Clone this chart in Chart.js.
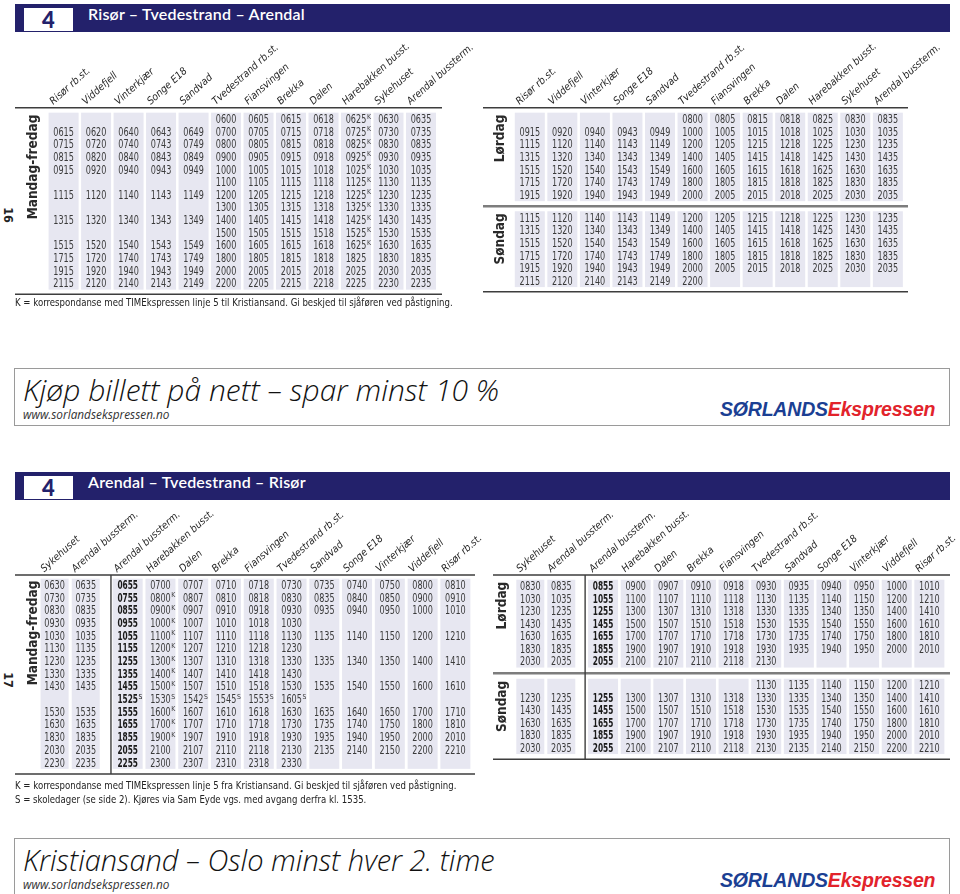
<!DOCTYPE html>
<html>
<head>
<meta charset="utf-8">
<script src="https://cdn.jsdelivr.net/npm/chart.js@4.4.1/dist/chart.umd.min.js"></script>
<style>
body { margin: 0; width: 960px; height: 894px; position: relative; overflow: hidden; background: #fff;
       font-family: "Liberation Sans Narrow", "DejaVu Sans Condensed", "Liberation Sans", sans-serif; color: #222; }
.bar { position: absolute; left: 15px; width: 935px; height: 28px; background: #23216b; }
.bar .num { position: absolute; left: 9px; top: 4px; width: 49px; height: 23px; background: #fff; color: #23216b;
            font: 900 22px Lato, sans-serif; text-align: center; line-height: 24px; }
.bar .title { position: absolute; left: 73px; top: 0; line-height: 30px; color: #fff; font: 600 16px Lato, sans-serif; letter-spacing: 0.2px; }
.page { position: absolute; width: 20px; height: 14px; text-align: center; font-weight: bold; font-size: 12.5px; line-height: 14px; transform: rotate(90deg); }
.note { position: absolute; left: 15px; font-size: 10.6px; line-height: 14px; color: #222; white-space: nowrap;
        transform: scaleX(0.9); transform-origin: 0 0; }
.promo { position: absolute; left: 14px; width: 934px; border: 1px solid #9a9a9a; background: #fff; }
.promo .big { position: absolute; left: 8px; font: italic 300 30px "Open Sans", sans-serif; color: #111; white-space: nowrap; }
.promo .url { position: absolute; left: 8px; font: italic 11.8px "Open Sans", sans-serif; color: #333; }
.promo .logo { position: absolute; left: 705px; font: italic bold 19.5px "Liberation Sans", Arial, sans-serif; letter-spacing: -0.2px; }
.logo .a { color: #1b3f93; } .logo .b { color: #e2232b; }
canvas { position: absolute; }
</style>
</head>
<body>
<div class="bar" style="top:4px"><div class="num">4</div><div class="title">Risør – Tvedestrand – Arendal</div></div>
<div class="bar" style="top:472px"><div class="num">4</div><div class="title">Arendal – Tvedestrand – Risør</div></div>

<div class="page" style="left:-2px;top:208px">16</div>
<div class="page" style="left:-2px;top:673px">17</div>

<canvas id="tl" width="480" height="265" style="left:0;top:33px"></canvas>
<canvas id="tr" width="480" height="265" style="left:480px;top:33px"></canvas>
<canvas id="bl" width="490" height="280" style="left:0;top:500px"></canvas>
<canvas id="br" width="470" height="265" style="left:490px;top:500px"></canvas>

<div class="note" style="top:295px">K = korrespondanse med TIMEkspressen linje 5 til Kristiansand. Gi beskjed til sjåføren ved påstigning.</div>
<div class="note" style="top:778px">K = korrespondanse med TIMEkspressen linje 5 fra Kristiansand. Gi beskjed til sjåføren ved påstigning.<br>S = skoledager (se side 2). Kjøres via Sam Eyde vgs. med avgang derfra kl. 1535.</div>

<div class="promo" style="top:368px;height:56px">
  <div class="big" style="top:0px">Kjøp billett på nett – spar minst 10 %</div>
  <div class="url" style="top:37px">www.sorlandsekspressen.no</div>
  <div class="logo" style="top:29px"><span class="a">SØRLANDS</span><span class="b">Ekspressen</span></div>
</div>
<div class="promo" style="top:838px;height:70px">
  <div class="big" style="top:1px;font-size:29px">Kristiansand – Oslo minst hver 2. time</div>
  <div class="url" style="top:37px">www.sorlandsekspressen.no</div>
  <div class="logo" style="top:30px"><span class="a">SØRLANDS</span><span class="b">Ekspressen</span></div>
</div>

<script>
// stops
const stopsRA = ['Risør rb.st.', 'Viddefjell', 'Vinterkjær', 'Songe E18', 'Sandvad', 'Tvedestrand rb.st.',
                 'Fiansvingen', 'Brekka', 'Dalen', 'Harebakken busst.', 'Sykehuset', 'Arendal bussterm.'];
const stopsAR = ['Sykehuset', 'Arendal bussterm.', 'Arendal bussterm.', 'Harebakken busst.', 'Dalen', 'Brekka',
                 'Fiansvingen', 'Tvedestrand rb.st.', 'Sandvad', 'Songe E18', 'Vinterkjær', 'Viddefjell', 'Risør rb.st.'];

// Risør - Tvedestrand - Arendal  ( - = no stop, K/S suffix = footnote)
const raWeekday = [
  '- - - - - 0600 0605 0615 0618 0625K 0630 0635',
  '0615 0620 0640 0643 0649 0700 0705 0715 0718 0725K 0730 0735',
  '0715 0720 0740 0743 0749 0800 0805 0815 0818 0825K 0830 0835',
  '0815 0820 0840 0843 0849 0900 0905 0915 0918 0925K 0930 0935',
  '0915 0920 0940 0943 0949 1000 1005 1015 1018 1025K 1030 1035',
  '- - - - - 1100 1105 1115 1118 1125K 1130 1135',
  '1115 1120 1140 1143 1149 1200 1205 1215 1218 1225K 1230 1235',
  '- - - - - 1300 1305 1315 1318 1325K 1330 1335',
  '1315 1320 1340 1343 1349 1400 1405 1415 1418 1425K 1430 1435',
  '- - - - - 1500 1505 1515 1518 1525K 1530 1535',
  '1515 1520 1540 1543 1549 1600 1605 1615 1618 1625K 1630 1635',
  '1715 1720 1740 1743 1749 1800 1805 1815 1818 1825 1830 1835',
  '1915 1920 1940 1943 1949 2000 2005 2015 2018 2025 2030 2035',
  '2115 2120 2140 2143 2149 2200 2205 2215 2218 2225 2230 2235'
];
const raSaturday = [
  '- - - - - 0800 0805 0815 0818 0825 0830 0835',
  '0915 0920 0940 0943 0949 1000 1005 1015 1018 1025 1030 1035',
  '1115 1120 1140 1143 1149 1200 1205 1215 1218 1225 1230 1235',
  '1315 1320 1340 1343 1349 1400 1405 1415 1418 1425 1430 1435',
  '1515 1520 1540 1543 1549 1600 1605 1615 1618 1625 1630 1635',
  '1715 1720 1740 1743 1749 1800 1805 1815 1818 1825 1830 1835',
  '1915 1920 1940 1943 1949 2000 2005 2015 2018 2025 2030 2035'
];
const raSunday = [
  '1115 1120 1140 1143 1149 1200 1205 1215 1218 1225 1230 1235',
  '1315 1320 1340 1343 1349 1400 1405 1415 1418 1425 1430 1435',
  '1515 1520 1540 1543 1549 1600 1605 1615 1618 1625 1630 1635',
  '1715 1720 1740 1743 1749 1800 1805 1815 1818 1825 1830 1835',
  '1915 1920 1940 1943 1949 2000 2005 2015 2018 2025 2030 2035',
  '2115 2120 2140 2143 2149 2200 - - - - - -'
];

// Arendal - Tvedestrand - Risør
const arWeekday = [
  '0630 0635 0655 0700 0707 0710 0718 0730 0735 0740 0750 0800 0810',
  '0730 0735 0755 0800K 0807 0810 0818 0830 0835 0840 0850 0900 0910',
  '0830 0835 0855 0900K 0907 0910 0918 0930 0935 0940 0950 1000 1010',
  '0930 0935 0955 1000K 1007 1010 1018 1030 - - - - -',
  '1030 1035 1055 1100K 1107 1110 1118 1130 1135 1140 1150 1200 1210',
  '1130 1135 1155 1200K 1207 1210 1218 1230 - - - - -',
  '1230 1235 1255 1300K 1307 1310 1318 1330 1335 1340 1350 1400 1410',
  '1330 1335 1355 1400K 1407 1410 1418 1430 - - - - -',
  '1430 1435 1455 1500K 1507 1510 1518 1530 1535 1540 1550 1600 1610',
  '- - 1525S 1530S 1542S 1545S 1553S 1605S - - - - -',
  '1530 1535 1555 1600K 1607 1610 1618 1630 1635 1640 1650 1700 1710',
  '1630 1635 1655 1700K 1707 1710 1718 1730 1735 1740 1750 1800 1810',
  '1830 1835 1855 1900K 1907 1910 1918 1930 1935 1940 1950 2000 2010',
  '2030 2035 2055 2100 2107 2110 2118 2130 2135 2140 2150 2200 2210',
  '2230 2235 2255 2300 2307 2310 2318 2330 - - - - -'
];
const arSaturday = [
  '0830 0835 0855 0900 0907 0910 0918 0930 0935 0940 0950 1000 1010',
  '1030 1035 1055 1100 1107 1110 1118 1130 1135 1140 1150 1200 1210',
  '1230 1235 1255 1300 1307 1310 1318 1330 1335 1340 1350 1400 1410',
  '1430 1435 1455 1500 1507 1510 1518 1530 1535 1540 1550 1600 1610',
  '1630 1635 1655 1700 1707 1710 1718 1730 1735 1740 1750 1800 1810',
  '1830 1835 1855 1900 1907 1910 1918 1930 1935 1940 1950 2000 2010',
  '2030 2035 2055 2100 2107 2110 2118 2130 - - - - -'
];
const arSunday = [
  '- - - - - - - 1130 1135 1140 1150 1200 1210',
  '1230 1235 1255 1300 1307 1310 1318 1330 1335 1340 1350 1400 1410',
  '1430 1435 1455 1500 1507 1510 1518 1530 1535 1540 1550 1600 1610',
  '1630 1635 1655 1700 1707 1710 1718 1730 1735 1740 1750 1800 1810',
  '1830 1835 1855 1900 1907 1910 1918 1930 1935 1940 1950 2000 2010',
  '2030 2035 2055 2100 2107 2110 2118 2130 2135 2140 2150 2200 2210'
];

const NARROW = '"Liberation Sans Narrow", "DejaVu Sans Condensed", "Liberation Sans", sans-serif';
const SHADE = '#e7e7f1';
const INK = '#3a3a3a';
const DIGITS_W = 20.6;   // printed width of a 4-digit time

function makePlugin(cfg) {
  return {
    id: 'timetable',
    beforeDatasetsDraw(chart) {
      const { ctx, chartArea: a, scales: { x, y } } = chart;
      ctx.save();
      // column shading
      ctx.fillStyle = SHADE;
      cfg.groups.forEach(gr => {
        const y0 = y.getPixelForValue(gr.start - 0.5);
        const y1 = y.getPixelForValue(gr.start + gr.rows.length - 0.5);
        for (let c = 0; c < cfg.ncol; c++) {
          const cx = x.getPixelForValue(cfg.xVal(c));
          const w = cfg.narrowFirst && c < 2 ? 28 : 30;
          ctx.fillRect(cx - w / 2, y0, w, y1 - y0);
        }
      });
      // rules
      ctx.strokeStyle = '#3d3d3d';
      ctx.lineWidth = 1.6;
      [a.top, a.bottom].forEach(py => {
        ctx.beginPath(); ctx.moveTo(a.left, py); ctx.lineTo(a.right, py); ctx.stroke();
      });
      ctx.strokeStyle = '#7d7d7d';
      ctx.lineWidth = 2.5;
      cfg.groups.slice(1).forEach(gr => {
        const py = y.getPixelForValue(gr.start - (cfg.gap + 1) / 2);
        ctx.beginPath(); ctx.moveTo(a.left, py); ctx.lineTo(a.right, py); ctx.stroke();
      });
      if (cfg.divider != null) {
        const px = x.getPixelForValue(cfg.divider);
        ctx.strokeStyle = '#3d3d3d';
        ctx.lineWidth = 1.4;
        ctx.beginPath(); ctx.moveTo(px, a.top); ctx.lineTo(px, a.bottom); ctx.stroke();
      }
      // day labels
      ctx.fillStyle = '#2a2a2a';
      ctx.font = 'bold 13.5px ' + NARROW;
      ctx.textAlign = 'right';
      ctx.textBaseline = 'middle';
      cfg.groups.forEach(gr => {
        ctx.save();
        ctx.translate(cfg.labelX, y.getPixelForValue(gr.start - 0.5) + 2);
        ctx.rotate(-Math.PI / 2);
        ctx.fillText(gr.label, 0, 0);
        ctx.restore();
      });
      ctx.restore();
    },
    afterDatasetsDraw(chart) {
      const ctx = chart.ctx;
      const meta = chart.getDatasetMeta(0);
      const pts = chart.data.datasets[0].data;
      ctx.save();
      ctx.textBaseline = 'alphabetic';
      ctx.textAlign = 'left';
      meta.data.forEach((el, i) => {
        const p = pts[i];
        ctx.font = (p.bold ? 'bold ' : '') + '11.4px ' + NARROW;
        ctx.fillStyle = p.bold ? '#1a1a1a' : INK;
        // squeeze the face to the condensed width of the print
        const sx = DIGITS_W / ctx.measureText('0000').width;
        const w = ctx.measureText(p.t).width * sx;
        const left = el.x - DIGITS_W / 2;
        ctx.save();
        ctx.translate(left, el.y + 4);
        ctx.scale(sx, 1);
        ctx.fillText(p.t, 0, 0);
        ctx.restore();
        if (p.sup) {
          ctx.font = '6.8px ' + NARROW;
          ctx.fillText(p.sup, left + w + 0.6, el.y - 0.5);
        }
      });
      ctx.restore();
    }
  };
}

function timetable(id, stops, groups, g) {
  const canvas = document.getElementById(id);
  const cl = parseFloat(canvas.style.left), ct = parseFloat(canvas.style.top);
  const xVal = g.split ? (i => i < 2 ? i * 0.95 : i + 0.23) : (i => i);
  // row index of each group, with a gap between day groups
  let start = 0;
  const grs = groups.map(gr => {
    const o = { label: gr[0], rows: gr[1], start };
    start += gr[1].length + g.gap;
    return o;
  });
  const points = [];
  grs.forEach(gr => gr.rows.forEach((row, r) => row.split(' ').forEach((cell, c) => {
    if (cell === '-') return;
    const sup = /[KS]$/.test(cell) ? cell.slice(-1) : '';
    points.push({ x: xVal(c), y: gr.start + r, t: sup ? cell.slice(0, -1) : cell, sup, bold: c === g.boldCol });
  })));
  const cfg = { groups: grs, ncol: stops.length, xVal, gap: g.gap, divider: g.divider,
                narrowFirst: g.split, labelX: g.labelX - cl };
  const axisH = g.topY - ct;
  new Chart(canvas, {
    type: 'scatter',
    data: { datasets: [{ data: points, pointRadius: 0, pointHoverRadius: 0 }] },
    options: {
      responsive: false,
      animation: false,
      devicePixelRatio: 1,
      events: [],
      layout: { padding: { left: g.lineLeft - cl, right: cl + canvas.width - g.lineRight, top: 0,
                           bottom: ct + canvas.height - g.bottomY } },
      plugins: { legend: { display: false }, tooltip: { enabled: false } },
      scales: {
        x: {
          type: 'linear', position: 'top',
          min: (g.lineLeft - g.center0) / g.pitch,
          max: (g.lineRight - g.center0) / g.pitch,
          grid: { display: false, drawTicks: false },
          border: { display: false },
          afterBuildTicks: s => { s.ticks = stops.map((n, i) => ({ value: xVal(i) - 0.12 })); },
          afterFit: s => { s.height = axisH; s.paddingLeft = 0; s.paddingRight = 0; },
          ticks: {
            autoSkip: false, minRotation: 42, maxRotation: 42, padding: 0, color: '#1e1e1e',
            font: { family: NARROW, size: 10.3, style: 'italic' },
            callback: (v, i) => stops[i]
          }
        },
        y: {
          type: 'linear', display: false, reverse: true,
          min: (g.topY - g.firstRowY) / g.rowPitch,
          max: (g.bottomY - g.firstRowY) / g.rowPitch
        }
      }
    },
    plugins: [makePlugin(cfg)]
  });
}

timetable('tl', stopsRA, [['Mandag-fredag', raWeekday]],
  { center0: 63.6, pitch: 32.49, lineLeft: 15, lineRight: 442, topY: 107.7, firstRowY: 119, bottomY: 294.3,
    rowPitch: 12.64, gap: 0, labelX: 33 });
timetable('tr', stopsRA, [['Lørdag', raSaturday], ['Søndag', raSunday]],
  { center0: 529.8, pitch: 32.55, lineLeft: 483, lineRight: 908, topY: 107.7, firstRowY: 119, bottomY: 291.7,
    rowPitch: 12.64, gap: 0.8, labelX: 500 });
timetable('bl', stopsAR, [['Mandag-fredag', arWeekday]],
  { center0: 54.6, pitch: 32.77, lineLeft: 15, lineRight: 475, topY: 575, firstRowY: 585, bottomY: 774,
    rowPitch: 12.68, gap: 0, labelX: 33, split: true, boldCol: 2, divider: 1.72 });
timetable('br', stopsAR, [['Lørdag', arSaturday], ['Søndag', arSunday]],
  { center0: 530.3, pitch: 32.63, lineLeft: 493, lineRight: 950, topY: 575, firstRowY: 586, bottomY: 759.3,
    rowPitch: 12.55, gap: 0.89, labelX: 502, split: true, boldCol: 2, divider: 1.68 });
</script>
</body>
</html>
